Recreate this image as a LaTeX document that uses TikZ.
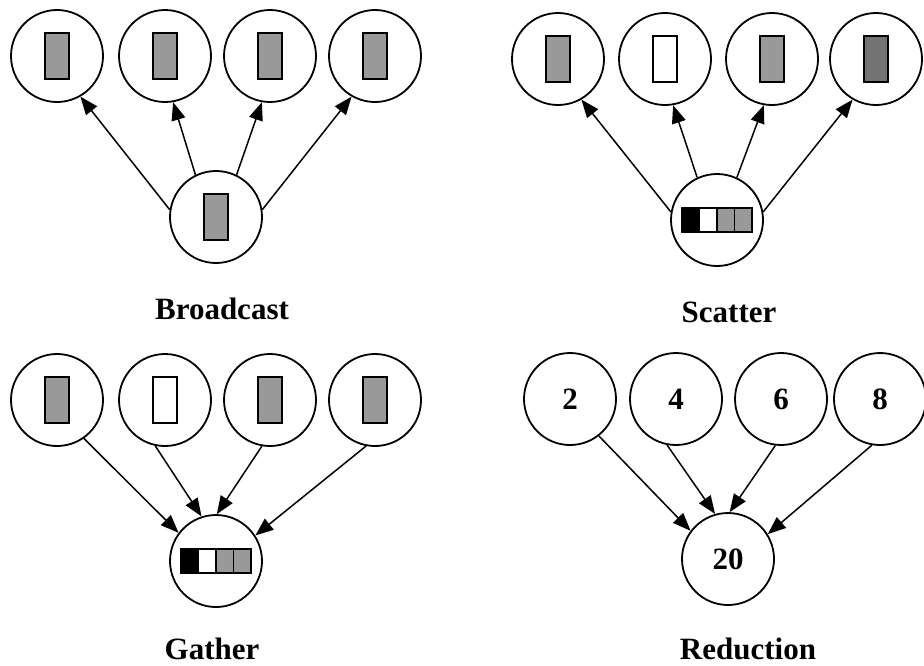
\documentclass[tikz,border=0pt]{standalone}
\usepackage{fontspec}
\setmainfont{Liberation Serif}
\usetikzlibrary{arrows.meta,positioning}

\begin{document}
\begin{tikzpicture}[x=0.5pt,y=-0.5pt,
  proc/.style={circle,draw,line width=0.9pt,minimum size=46pt,inner sep=0pt,font=\fontsize{15.5}{18}\selectfont\bfseries},
  blk/.style={draw,line width=1pt,minimum width=12pt,minimum height=23pt,inner sep=0pt,fill=black!40},
  cell/.style={draw,line width=0.8pt,minimum width=8.75pt,minimum height=12pt,inner sep=0pt},
  msg/.style={-{Triangle[length=9pt,width=7pt]},line width=0.75pt},
  title/.style={font=\fontsize{15.5}{18}\selectfont\bfseries,anchor=base}]
\useasboundingbox (0,0) rectangle (924,665);

\node[proc] (b0) at (216,217) {};
\node[blk] (b0d) at (b0) {};
\foreach \i/\x in {1/57,2/165,3/270,4/375} {
  \node[proc] (b\i) at (\x,56) {};
  \node[blk] (b\i d) at (b\i) {};
}
\draw[msg] (b0.171) -- (b1.300);
\draw[msg] (b0.116) -- (b2.280);
\draw[msg] (b0.64) -- (b3.260);
\draw[msg] (b0.9) -- (b4.240);
\node[title] (bt) at (222,319) {Broadcast};

\node[proc] (s0) at (717,220) {};
\foreach \k/\f in {0/black,1/white,2/black!40,3/black!40}
  \node[cell,fill=\f,xshift={(\k-1.5)*8.75pt}] (s0d\k) at (s0) {};
\foreach \i/\x in {1/558,2/665,3/772,4/876} {
  \node[proc] (s\i) at (\x,59) {};
}
\node[blk] (s1d) at (s1) {};
\node[blk,fill=white] (s2d) at (s2) {};
\node[blk] (s3d) at (s3) {};
\node[blk,fill=black!55] (s4d) at (s4) {};
\draw[msg] (s0.170) -- (s1.300);
\draw[msg] (s0.115) -- (s2.280);
\draw[msg] (s0.65) -- (s3.260);
\draw[msg] (s0.10) -- (s4.240);
\node[title] (st) at (729,322) {Scatter};

\node[proc] (g0) at (216,561) {};
\foreach \k/\f in {0/black,1/white,2/black!40,3/black!40}
  \node[cell,fill=\f,xshift={(\k-1.5)*8.75pt}] (g0d\k) at (g0) {};
\foreach \i/\x in {1/57,2/165,3/270,4/375} {
  \node[proc] (g\i) at (\x,400) {};
}
\node[blk] (g1d) at (g1) {};
\node[blk,fill=white] (g2d) at (g2) {};
\node[blk] (g3d) at (g3) {};
\node[blk] (g4d) at (g4) {};
\draw[msg] (g1.305) -- (g0.143);
\draw[msg] (g2.258) -- (g0.108);
\draw[msg] (g3.260) -- (g0.89);
\draw[msg] (g4.259) -- (g0.33);
\node[title] (gt) at (212,659) {Gather};

\node[proc] (r0) at (728,559) {20};
\foreach \i/\x/\v in {1/570/2,2/676/4,3/781/6,4/880/8} {
  \node[proc] (r\i) at (\x,399) {\v};
}
\draw[msg] (r1.308) -- (r0.143);
\draw[msg] (r2.259) -- (r0.106);
\draw[msg] (r3.263) -- (r0.88);
\draw[msg] (r4.260) -- (r0.32);
\node[title] (rt) at (748,659) {Reduction};
\end{tikzpicture}
\end{document}
